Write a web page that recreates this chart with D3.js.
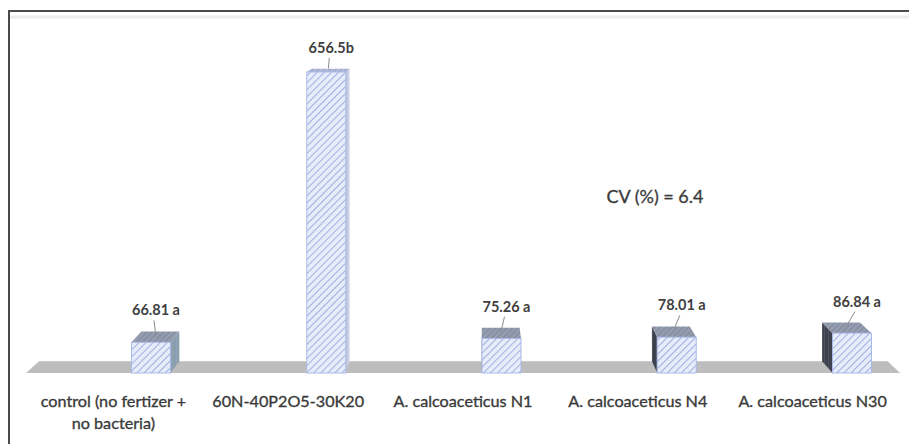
<!DOCTYPE html>
<html>
<head>
<meta charset="utf-8">
<script src="https://cdn.jsdelivr.net/npm/d3@7"></script>
<style>
  html, body { margin: 0; padding: 0; background: #fff; }
  svg { display: block; }
</style>
</head>
<body>
<svg id="chart" width="909" height="444"></svg>
<script>
// Treatments, yields and significance letters
const categories = [
  "control (no fertizer + no bacteria)",
  "60N-40P2O5-30K20",
  "A. calcoaceticus N1",
  "A. calcoaceticus N4",
  "A. calcoaceticus N30"
];
const categoryLines = [
  ["control (no fertizer +", "no bacteria)"],
  ["60N-40P2O5-30K20"],
  ["A. calcoaceticus N1"],
  ["A. calcoaceticus N4"],
  ["A. calcoaceticus N30"]
];
const values = [66.81, 656.5, 75.26, 78.01, 86.84];
const groupLetters = [" a", "b", " a", " a", " a"];
const cvText = "CV (%) = 6.4";

const W = 909, H = 444;
const svg = d3.select("#chart");

// Scales: floor / axis labels along the front edge of the floor,
// columns placed on their own row a little further back.
const floorLeft = 26, floorRight = 900, floorY = 373;
const xLabel = d3.scaleBand().domain(categories).range([floorLeft, floorRight]);
const xBar = d3.scalePoint().domain(categories).range([151, 852]);
const y = d3.scaleLinear().domain([0, 700]).range([floorY, 52]);
const barW = 39;

// Simple perspective: back face points pulled toward a vanishing point
const vp = { x: 475, y: -35 }, depth = 0.029;
const back = (px, py) => [px + (vp.x - px) * depth, py + (vp.y - py) * depth];

// Hatch patterns
const defs = svg.append("defs");
function hatch(id, base, line, sw, size, angle) {
  const p = defs.append("pattern")
    .attr("id", id)
    .attr("patternUnits", "userSpaceOnUse")
    .attr("width", size).attr("height", size)
    .attr("patternTransform", `rotate(${angle})`);
  p.append("rect").attr("width", size).attr("height", size).attr("fill", base);
  p.append("line").attr("x1", 0).attr("y1", 0).attr("x2", 0).attr("y2", size)
    .attr("stroke", line).attr("stroke-width", sw);
}
hatch("hFront", "#e6ecfa", "#98abdf", 1.8, 5, 45);
hatch("hTop", "#8a93a6", "#a6aec1", 1.4, 4, 45);
hatch("hTopTall", "#a3afd1", "#c6cee6", 1.4, 4, 45);
hatch("hRight", "#899fb0", "#a0a8ba", 1.2, 4, 0);
hatch("hRightTall", "#c0c8de", "#dbe0ee", 1.2, 4, 0);
hatch("hLeft", "#3d424e", "#575d6a", 1.2, 4, 0);

// Frame
svg.append("line").attr("x1", 9).attr("x2", W).attr("y1", 17).attr("y2", 17)
  .attr("stroke", "#ececec").attr("stroke-width", 3);
svg.append("line").attr("x1", 9).attr("x2", W).attr("y1", 11).attr("y2", 11)
  .attr("stroke", "#4a4a4a").attr("stroke-width", 2);
svg.append("line").attr("x1", 9).attr("x2", 9).attr("y1", 10).attr("y2", H)
  .attr("stroke", "#4a4a4a").attr("stroke-width", 2);

// Floor
const fl = back(floorLeft, floorY), fr = back(floorRight, floorY);
svg.append("path")
  .attr("d", d3.line()([[floorLeft, floorY], [floorRight, floorY], fr, fl]) + "Z")
  .attr("fill", "#bdbdbd");

// Columns
const bars = svg.append("g");
categories.forEach((c, i) => {
  const cx = xBar(c);
  const x0 = cx - barW / 2, x1 = cx + barW / 2;
  const yt = y(values[i]), yb = y(0);
  const tall = values[i] > 300;
  const g = bars.append("g");

  // side face
  if (cx < vp.x - 5) {
    g.append("path")
      .attr("d", d3.line()([[x1, yt], [x1, yb], back(x1, yb), back(x1, yt)]) + "Z")
      .attr("fill", tall ? "url(#hRightTall)" : "url(#hRight)");
  } else if (cx > vp.x + 5) {
    g.append("path")
      .attr("d", d3.line()([[x0, yt], [x0, yb], back(x0, yb), back(x0, yt)]) + "Z")
      .attr("fill", "url(#hLeft)");
  }
  // top face
  g.append("path")
    .attr("d", d3.line()([[x0, yt], [x1, yt], back(x1, yt), back(x0, yt)]) + "Z")
    .attr("fill", tall ? "url(#hTopTall)" : "url(#hTop)");
  // front face
  g.append("rect")
    .attr("x", x0).attr("y", yt).attr("width", barW).attr("height", yb - yt)
    .attr("fill", "url(#hFront)")
    .attr("stroke", "#aabae8").attr("stroke-width", 1);

  // value label with leader line
  const bt = back(cx, yt);
  const topMid = [(cx + bt[0]) / 2, (yt + bt[1]) / 2];
  const base = bt[1] - 16;
  g.append("line")
    .attr("x1", topMid[0]).attr("y1", topMid[1] - 2)
    .attr("x2", cx + 3).attr("y2", base + 5)
    .attr("stroke", "#8c8c8c").attr("stroke-width", 1);
  g.append("text")
    .attr("x", cx + 5).attr("y", base)
    .attr("text-anchor", "middle")
    .attr("font-family", "Lato, 'Liberation Sans', sans-serif")
    .attr("font-weight", "bold")
    .attr("font-size", 14.5)
    .attr("fill", "#404040")
    .text(values[i] + groupLetters[i]);
});

// Category labels along the floor's front edge
const labels = svg.append("g")
  .attr("font-family", "Lato, 'Liberation Sans', sans-serif")
  .attr("font-size", 16.2)
  .attr("fill", "#3a3a3a")
  .attr("stroke", "#3a3a3a")
  .attr("stroke-width", 0.35)
  .attr("text-anchor", "middle");
categories.forEach((c, i) => {
  const t = labels.append("text")
    .attr("x", xLabel(c) + xLabel.bandwidth() / 2)
    .attr("y", 407);
  categoryLines[i].forEach((ln, j) => {
    t.append("tspan")
      .attr("x", xLabel(c) + xLabel.bandwidth() / 2)
      .attr("dy", j === 0 ? 0 : 22)
      .text(ln);
  });
});

// Coefficient of variation note
svg.append("text")
  .attr("x", 655).attr("y", 203)
  .attr("text-anchor", "middle")
  .attr("font-family", "Lato, 'Liberation Sans', sans-serif")
  .attr("font-size", 18)
  .attr("fill", "#3a3a3a")
  .attr("stroke", "#3a3a3a")
  .attr("stroke-width", 0.3)
  .text(cvText);
</script>
</body>
</html>
